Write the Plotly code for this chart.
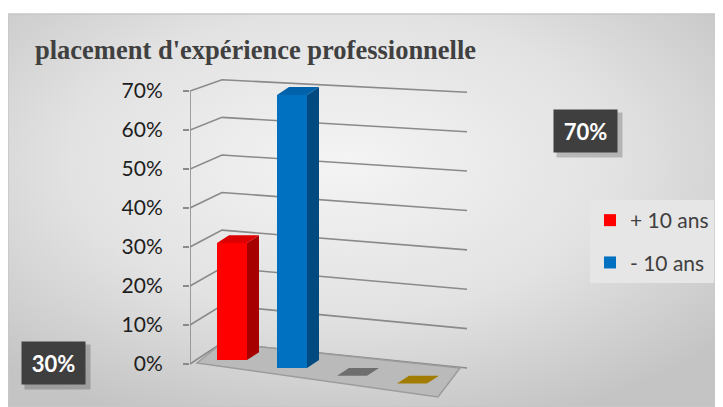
import base64
import plotly.graph_objects as go

# ---------------- data ----------------
categories = ["+ 10 ans", "- 10 ans", "Série 3", "Série 4"]
values = [0.30, 0.70, 0.0, 0.0]
legend_names = ["+ 10 ans", "- 10 ans"]
tick_values = [0.0, 0.1, 0.2, 0.3, 0.4, 0.5, 0.6, 0.7]
tick_labels = ["0%", "10%", "20%", "30%", "40%", "50%", "60%", "70%"]
title_text = "placement d'expérience professionnelle"

# ---------------- styles ----------------
front_colors = ["#FF0000", "#0070C0", "#6E6E6E", "#A17C00"]
side_colors = ["#A60000", "#004A80", "#4A4A4A", "#6B5300"]
top_colors = ["#DD0000", "#0062AA", "#6E6E6E", "#A17C00"]

OFF = 8                      # page body margin in the browser
W, H = 723 - OFF, 407 - OFF
# plot area in screenshot pixels
SPL, SPR, SPT, SPB = 190, 480, 60, 400
PL, PR, PT, PB = SPL - OFF, SPR - OFF, SPT - OFF, SPB - OFF
XR = [-0.7, 4.1333]
YR = [-0.0923, 0.7795]

BAR_W = 0.5        # front face width (category units)
DEPTH_X = 0.2      # 3D depth offset in x
DEPTH_Y = 0.02     # 3D depth offset in y
TILT = 0.02        # floor drop per category (perspective)
BASE0 = 0.01


def px_x(p):
    return (p - SPL) / (SPR - SPL)


def px_y(p):
    return (SPB - p) / (SPB - SPT)


fig = go.Figure()

# front faces (bars)
for i, (cat, v) in enumerate(zip(categories, values)):
    base = BASE0 - TILT * i
    show = cat in legend_names
    fig.add_trace(go.Bar(
        x=[i], y=[v], base=[base], width=BAR_W,
        marker=dict(color=front_colors[i], line=dict(width=0)),
        name=cat, showlegend=show, legendgroup=cat,
        hoverinfo="skip",
    ))

# side and top faces
for i, (cat, v) in enumerate(zip(categories, values)):
    base = BASE0 - TILT * i
    xl, xr = i - BAR_W / 2, i + BAR_W / 2
    top = base + v
    if v > 0:
        fig.add_trace(go.Scatter(
            x=[xr, xr, xr + DEPTH_X, xr + DEPTH_X, xr],
            y=[base, top, top + DEPTH_Y, base + DEPTH_Y, base],
            fill="toself", fillcolor=side_colors[i], mode="none",
            showlegend=False, hoverinfo="skip",
        ))
    fig.add_trace(go.Scatter(
        x=[xl, xl + DEPTH_X, xr + DEPTH_X, xr, xl],
        y=[top, top + DEPTH_Y, top + DEPTH_Y, top, top],
        fill="toself", fillcolor=top_colors[i], mode="none",
        showlegend=False, hoverinfo="skip",
    ))

shapes = []
# slanted gridlines (front axis -> back corner -> right end)
X_FRONT, X_BACK, X_RIGHT = -0.7, -0.167, 3.917
for t in tick_values:
    yb = 0.054 + 0.964 * t
    yr = -0.0103 + 1.01 * t
    shapes.append(dict(type="path", xref="x", yref="y", layer="below",
                       path=f"M{X_FRONT},{t} L{X_BACK},{yb} L{X_RIGHT},{yr}",
                       line=dict(color="#8a8a8a", width=1.6)))
# floor
shapes.append(dict(type="path", xref="x", yref="y", layer="below",
                   path="M-0.583,0.0026 L-0.167,0.054 L3.8,-0.0103 L3.433,-0.0846 Z",
                   fillcolor="#bababa", line=dict(color="#9c9c9c", width=1.5)))
# front vertical axis line
shapes.append(dict(type="line", xref="x", yref="y", layer="below",
                   x0=X_FRONT, x1=X_FRONT, y0=0, y1=tick_values[-1],
                   line=dict(color="#8a8a8a", width=1.6)))
# chart border
shapes.append(dict(type="rect", xref="paper", yref="paper", layer="below",
                   x0=px_x(8), x1=px_x(723), y0=px_y(407), y1=px_y(14),
                   line=dict(color="#c6c6c6", width=1.5), fillcolor="rgba(0,0,0,0)"))

# background gradient image
bw, bh = 715, 393
svg = (f'<svg xmlns="http://www.w3.org/2000/svg" width="{bw}" height="{bh}" '
       f'viewBox="0 0 {bw} {bh}" preserveAspectRatio="none"><defs>'
       '<radialGradient id="g" cx="0.47" cy="0.38" r="0.7">'
       '<stop offset="0" stop-color="#f4f4f4"/><stop offset="0.55" stop-color="#e2e2e2"/>'
       '<stop offset="1" stop-color="#c4c4c4"/></radialGradient></defs>'
       f'<rect width="{bw}" height="{bh}" fill="url(#g)"/></svg>')
src = "data:image/svg+xml;base64," + base64.b64encode(svg.encode()).decode()

# data labels (boxes)
annotations = []
label_pos = [(53, 363), (585, 131)]
for i, (cx, cy) in enumerate(label_pos):
    txt = f"{values[i]:.0%}"
    annotations.append(dict(xref="paper", yref="paper", x=px_x(cx), y=px_y(cy),
                            xanchor="center", yanchor="middle",
                            text="", showarrow=False, width=63, height=42,
                            bgcolor="rgba(0,0,0,0.2)", xshift=4, yshift=-4))
    annotations.append(dict(xref="paper", yref="paper", x=px_x(cx), y=px_y(cy),
                            xanchor="center", yanchor="middle",
                            text=f"<b>{txt}</b>", showarrow=False, width=63, height=42,
                            bgcolor="#3f3f3f", borderpad=0,
                            font=dict(family="Lato", size=22, color="#ffffff")))

fig.update_layout(
    width=W, height=H,
    margin=dict(l=PL, r=W - PR, t=PT, b=H - PB, pad=0),
    paper_bgcolor="#ffffff", plot_bgcolor="rgba(0,0,0,0)",
    barmode="overlay",
    title=dict(text=title_text, xref="container", yref="container",
               x=(35 - OFF) / W, xanchor="left", y=1 - (50 - OFF) / H, yanchor="middle",
               font=dict(family="Liberation Serif", size=26.5, color="#404040", weight="bold")),
    xaxis=dict(range=XR, visible=False, fixedrange=True),
    yaxis=dict(range=YR, tickvals=tick_values, ticktext=tick_labels,
               showgrid=False, zeroline=False, showline=False,
               ticks="outside", ticklen=6, tickcolor="#8a8a8a", tickwidth=1.5,
               ticklabelstandoff=16,
               tickfont=dict(family="Lato", size=21, color="#1e1e1e"), fixedrange=True),
    legend=dict(xref="container", yref="container", x=(590 - OFF) / W,
                y=1 - (200 - OFF) / H,
                xanchor="left", yanchor="top", bgcolor="#e6e6e6",
                font=dict(family="Lato", size=21, color="#404040"),
                tracegroupgap=12, itemclick=False, itemdoubleclick=False),
    shapes=shapes,
    annotations=annotations,
    images=[dict(source=src, xref="paper", yref="paper", x=px_x(8), y=px_y(14),
                 sizex=bw / (SPR - SPL), sizey=bh / (SPB - SPT), xanchor="left",
                 yanchor="top", sizing="stretch", layer="below")],
    showlegend=True,
)

fig.write_html("out.html")
